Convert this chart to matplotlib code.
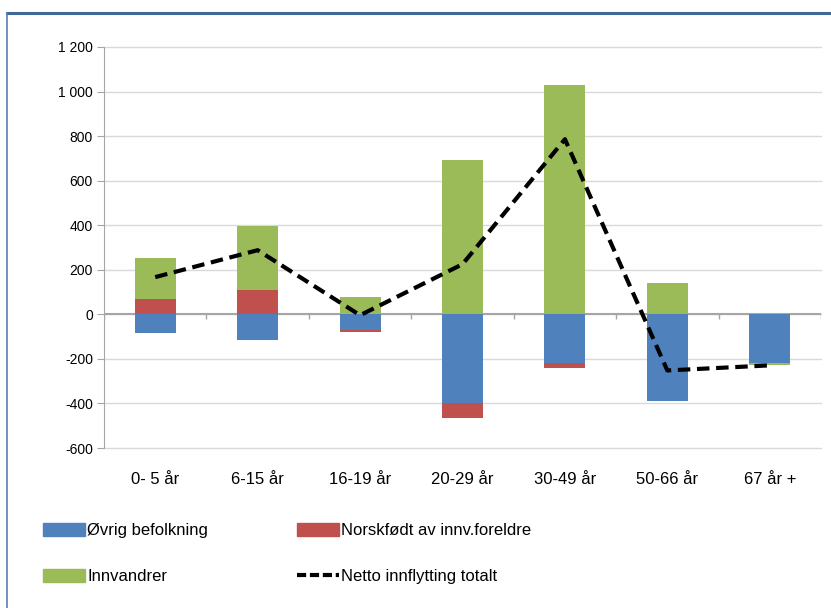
import numpy as np
import matplotlib
matplotlib.use("Agg")
import matplotlib.pyplot as plt
from matplotlib.patches import Patch
from matplotlib.lines import Line2D

plt.rcParams['font.family'] = ['Liberation Sans', 'DejaVu Sans']

# data
categories = ["0- 5 år", "6-15 år", "16-19 år", "20-29 år", "30-49 år", "50-66 år", "67 år +"]
ovrig = [-85, -117, -72, -400, -220, -391, -220]
norskfodt = [67, 108, -8, -67, -23, 0, 0]
innvandrer = [185, 287, 76, 692, 1029, 139, -9]
netto = [167, 288, -4, 225, 786, -252, -229]

series = [("Øvrig befolkning", ovrig, "#4F81BD"),
          ("Norskfødt av innv.foreldre", norskfodt, "#C0504D"),
          ("Innvandrer", innvandrer, "#9BBB59")]

fig = plt.figure(figsize=(8.31, 6.08), dpi=100)
ax = fig.add_axes([104/831, 1 - 448/608, 717/831, 401/608])

x = np.arange(len(categories))
pos_bottom = np.zeros(len(x))
neg_bottom = np.zeros(len(x))
handles = {}
for name, vals, col in series:
    v = np.array(vals, dtype=float)
    bottom = np.where(v >= 0, pos_bottom, neg_bottom)
    ax.bar(x, v, 0.4, bottom=bottom, color=col, zorder=3)
    pos_bottom = pos_bottom + np.where(v >= 0, v, 0)
    neg_bottom = neg_bottom + np.where(v < 0, v, 0)
    handles[name] = Patch(color=col)

ax.plot(x, netto, color="black", lw=3, ls=(0, (3, 1.6)), zorder=4)
handles["Netto innflytting totalt"] = Line2D([], [], color="black", lw=3, ls=(0, (2.2, 0.9)))

ax.set_xlim(-0.5, 6.5)
ax.set_ylim(-600, 1200)
yt = np.arange(-600, 1201, 200)
ax.set_yticks(yt)
ax.set_yticklabels([f"{v:,}".replace(",", " ") for v in yt], fontsize=10)
for v in yt:
    ax.axhline(v, color="#D9D9D9", lw=1, zorder=0, clip_on=False)
ax.axhline(0, color="#A6A6A6", lw=1.5, zorder=2)
ax.vlines(np.arange(-0.5, 7, 1), -22, 0, color="#A6A6A6", lw=1, zorder=2)

ax.set_xticks(x)
ax.set_xticklabels(categories, fontsize=12)
ax.tick_params(axis="x", length=0, pad=17)
ax.tick_params(axis="y", length=5, color="#A6A6A6", pad=3)

for s in ["top", "right", "bottom"]:
    ax.spines[s].set_visible(False)
ax.spines["left"].set_color("#A6A6A6")

# legend in two columns
kw = dict(loc="upper left", frameon=False, fontsize=12, handlelength=2.5,
          handleheight=0.8, handletextpad=0.15, labelspacing=1.85)
fig.legend([handles["Øvrig befolkning"], handles["Innvandrer"]],
           ["Øvrig befolkning", "Innvandrer"],
           bbox_to_anchor=(28/831, 1 - 508/608), **kw)
fig.legend([handles["Norskfødt av innv.foreldre"], handles["Netto innflytting totalt"]],
           ["Norskfødt av innv.foreldre", "Netto innflytting totalt"],
           bbox_to_anchor=(282/831, 1 - 508/608), **kw)

# chart frame (partially visible)
fig.add_artist(Line2D([7/831, 1], [1 - 13/608, 1 - 13/608], color="#3F6797", lw=2.2, transform=fig.transFigure))
fig.add_artist(Line2D([7/831, 7/831], [0, 1 - 13/608], color="#5B7FB0", lw=1.2, transform=fig.transFigure))

fig.savefig("out.png", dpi=100)
